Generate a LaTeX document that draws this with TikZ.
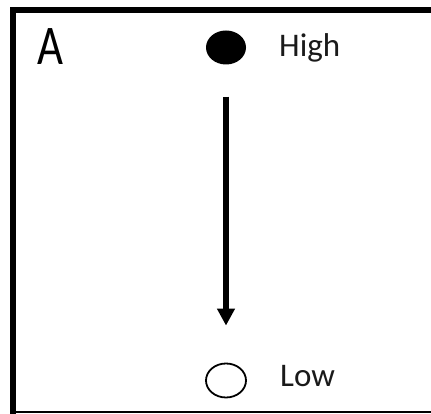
\documentclass[tikz,border=0pt]{standalone}
\usepackage{fontspec}
\setmainfont{Carlito}
\usetikzlibrary{arrows.meta, positioning, shapes.geometric}
\definecolor{inkblack}{HTML}{000000}
\definecolor{textgray}{HTML}{1A1A1A}

\begin{document}
\begin{tikzpicture}[x=1pt, y=1pt,
    dot/.style={ellipse, minimum width=40pt, minimum height=34pt, inner sep=0pt},
    lbl/.style={anchor=base west, inner sep=0pt, font=\fontsize{33}{36}\selectfont, textgray}]
  \useasboundingbox (0,0) rectangle (431,414);

  % Rahmen (links und oben dick, unten duenn)
  \draw[line width=6pt, inkblack] (13,0) -- (13,404) -- (431,404);
  \draw[line width=2pt, inkblack] (16,1.5) -- (431,1.5);

  % Panel-Buchstabe
  \node[anchor=base west, inner sep=0pt, font=\fontsize{56}{60}\selectfont] (panel) at (37,349) {\scalebox{0.8}[1]{A}};

  % Zustaende
  \node[dot, fill=inkblack] (high) at (226,366.5) {};
  \node[dot, draw=inkblack, line width=1.8pt] (low) at (226,33.5) {};
  \node[lbl] (highlbl) at (279,357) {High};
  \node[lbl] (lowlbl) at (280,27) {Low};

  % Uebergang
  \draw[line width=5.5pt, -{Triangle[width=17pt, length=17pt]}, shorten <=32pt, shorten >=37pt]
    (high.south) -- (low.north);
\end{tikzpicture}
\end{document}
